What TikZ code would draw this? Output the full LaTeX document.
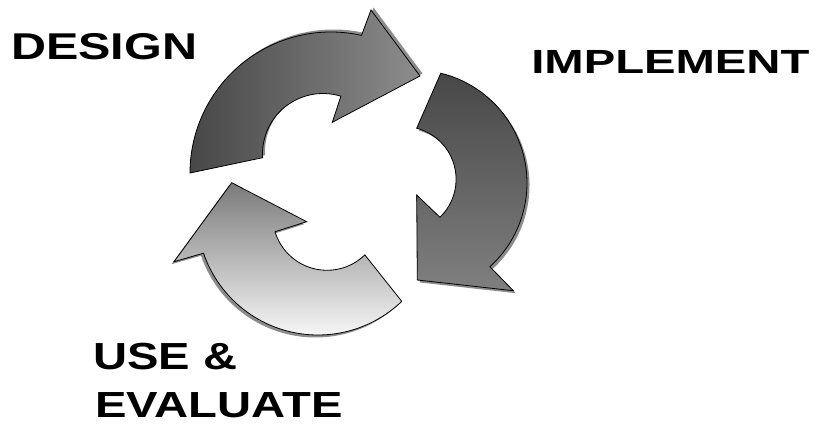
\documentclass[tikz,border=0pt]{standalone}
\usepackage{fontspec}
\setmainfont{Liberation Sans}
\begin{document}
\begin{tikzpicture}[x=1pt,y=1pt,
  arrowbody/.style={draw=black,line width=0.8pt,line join=miter},
  arrowshadow/.style={fill=black!45,draw=none},
  lbl/.style={inner sep=0pt,anchor=base west,font=\bfseries}]
\useasboundingbox (0,0) rectangle (816,431);
% ---------- DESIGN arrow (top) ----------
\def\designpath{([shift={(331,258)}]180:141) arc[start angle=180,end angle=77.5,radius=141]
  -- (371,421) -- (420,355) -- (332.3,308.7)
  -- ([shift={(323,277)}]72.8:60.5) arc[start angle=72.8,end angle=183.5,radius=60.5] -- cycle}
\fill[arrowshadow,shift={(2.5,2.5)}] \designpath;
\shade[arrowbody,left color=black!72,right color=black!45] \designpath;
% ---------- IMPLEMENT arrow (right) ----------
\def\implpath{([shift={(414,248)}]76.3:113) arc[start angle=76.3,end angle=-47.8,radius=113]
  -- (513.3,140.3) -- (417.3,151) -- (416.7,236)
  -- ([shift={(403.4,251.7)}]-46.1:52.7) arc[start angle=-46.1,end angle=75.4,radius=52.7] -- cycle}
\fill[arrowshadow,shift={(2.5,-2.5)}] \implpath;
\shade[arrowbody,top color=black!72,bottom color=black!50] \implpath;
% ---------- USE & EVALUATE arrow (bottom left) ----------
\def\usepath{([shift={(318,217)}]198.9:121) arc[start angle=198.9,end angle=313.8,radius=121]
  -- ([shift={(327,215)}]314.2:54.3) arc[start angle=314.2,end angle=196.8,radius=54.3]
  -- (306.7,209.3) -- (231.7,248.3) -- (174,169.3) -- cycle}
\fill[arrowshadow,shift={(-2.5,-2.5)}] \usepath;
\shade[arrowbody,top color=black!52,bottom color=black!2] \usepath;
% ---------- labels ----------
\node[lbl,font=\fontsize{37.3}{40}\selectfont\bfseries,xscale=1.3] (design) at (11,371.7) {DESIGN};
\node[lbl,font=\fontsize{33.5}{36}\selectfont\bfseries,xscale=1.41] (implement) at (531,357.7) {IMPLEMENT};
\node[lbl,font=\fontsize{37.7}{40}\selectfont\bfseries,xscale=1.25] (use) at (93,61) {USE \&};
\node[lbl,font=\fontsize{36.3}{40}\selectfont\bfseries,xscale=1.3] (evaluate) at (95,14) {EVALUATE};
\end{tikzpicture}
\end{document}
